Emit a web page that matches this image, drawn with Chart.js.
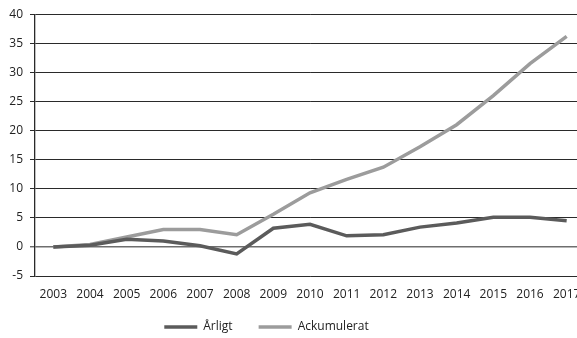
<!DOCTYPE html>
<html>
<head>
<meta charset="utf-8">
<script src="https://cdn.jsdelivr.net/npm/chart.js@4"></script>
<style>
    html, body { margin: 0; padding: 0; background: #fff; overflow: hidden; }
    #wrap { width: 585px; height: 338px; }
</style>
</head>
<body>
<div id="wrap"><canvas id="lineChart" width="585" height="338"></canvas></div>
<script>
const years = ['2003', '2004', '2005', '2006', '2007', '2008', '2009', '2010',
    '2011', '2012', '2013', '2014', '2015', '2016', '2017'];
const arligt = [0, 0.3, 1.3, 1.0, 0.2, -1.2, 3.2, 3.9, 1.9, 2.1, 3.4, 4.1, 5.1, 5.1, 4.5];
const ackumulerat = [0, 0.4, 1.7, 3.0, 3.0, 2.1, 5.6, 9.3, 11.6, 13.7, 17.2, 21.0, 26.0, 31.5, 36.2];

const fontFamily = '"Open Sans", sans-serif';

// the legend in the original sits left of the canvas centre and close under the years
const legendShift = {
    id: 'legendShift',
    afterLayout(chart) {
        chart.legend.left -= 26;
        chart.legend.right -= 26;
        chart.legend.top -= 13;
        chart.legend.bottom -= 13;
    }
};

const ctx = document.getElementById('lineChart').getContext('2d');

new Chart(ctx, {
    type: 'line',
    data: {
        labels: years,
        datasets: [{
            label: 'Årligt',
            data: arligt,
            borderColor: '#5b5b5b',
            backgroundColor: '#5b5b5b',
            borderWidth: 3.5,
            pointRadius: 0,
            tension: 0
        }, {
            label: 'Ackumulerat',
            data: ackumulerat,
            borderColor: '#9c9c9c',
            backgroundColor: '#9c9c9c',
            borderWidth: 3.5,
            pointRadius: 0,
            tension: 0
        }]
    },
    options: {
        responsive: false,
        animation: false,
        layout: {
            padding: { top: 11, left: 0, right: 0, bottom: -18 }
        },
        scales: {
            x: {
                offset: true,
                afterFit: (scale) => {
                    scale.height = 32;
                    scale.paddingLeft = 0;
                    scale.paddingRight = 0;
                },
                grid: { display: false, drawTicks: false },
                border: { display: false },
                ticks: {
                    padding: 11,
                    maxRotation: 0,
                    autoSkip: false,
                    color: '#222',
                    font: { family: fontFamily, size: 12 }
                }
            },
            y: {
                min: -5,
                max: 40,
                afterFit: (scale) => { scale.width = 35; },
                ticks: {
                    stepSize: 5,
                    padding: 7,
                    color: '#222',
                    font: { family: fontFamily, size: 12 }
                },
                grid: {
                    color: (c) => c.tick && c.tick.value === 0 ? '#6e6e6e' : '#2a2a2a',
                    lineWidth: (c) => c.tick && c.tick.value === 0 ? 1.6 : 1,
                    tickLength: 5,
                    tickColor: '#2a2a2a',
                    tickWidth: 1
                },
                border: { display: true, color: '#2a2a2a', width: 1.3 }
            }
        },
        plugins: {
            legend: {
                position: 'bottom',
                labels: {
                    usePointStyle: true,
                    pointStyle: 'line',
                    pointStyleWidth: 33,
                    padding: 26,
                    color: '#222',
                    font: { family: fontFamily, size: 12 }
                }
            },
            tooltip: { enabled: false }
        }
    },
    plugins: [legendShift]
});
</script>
</body>
</html>
